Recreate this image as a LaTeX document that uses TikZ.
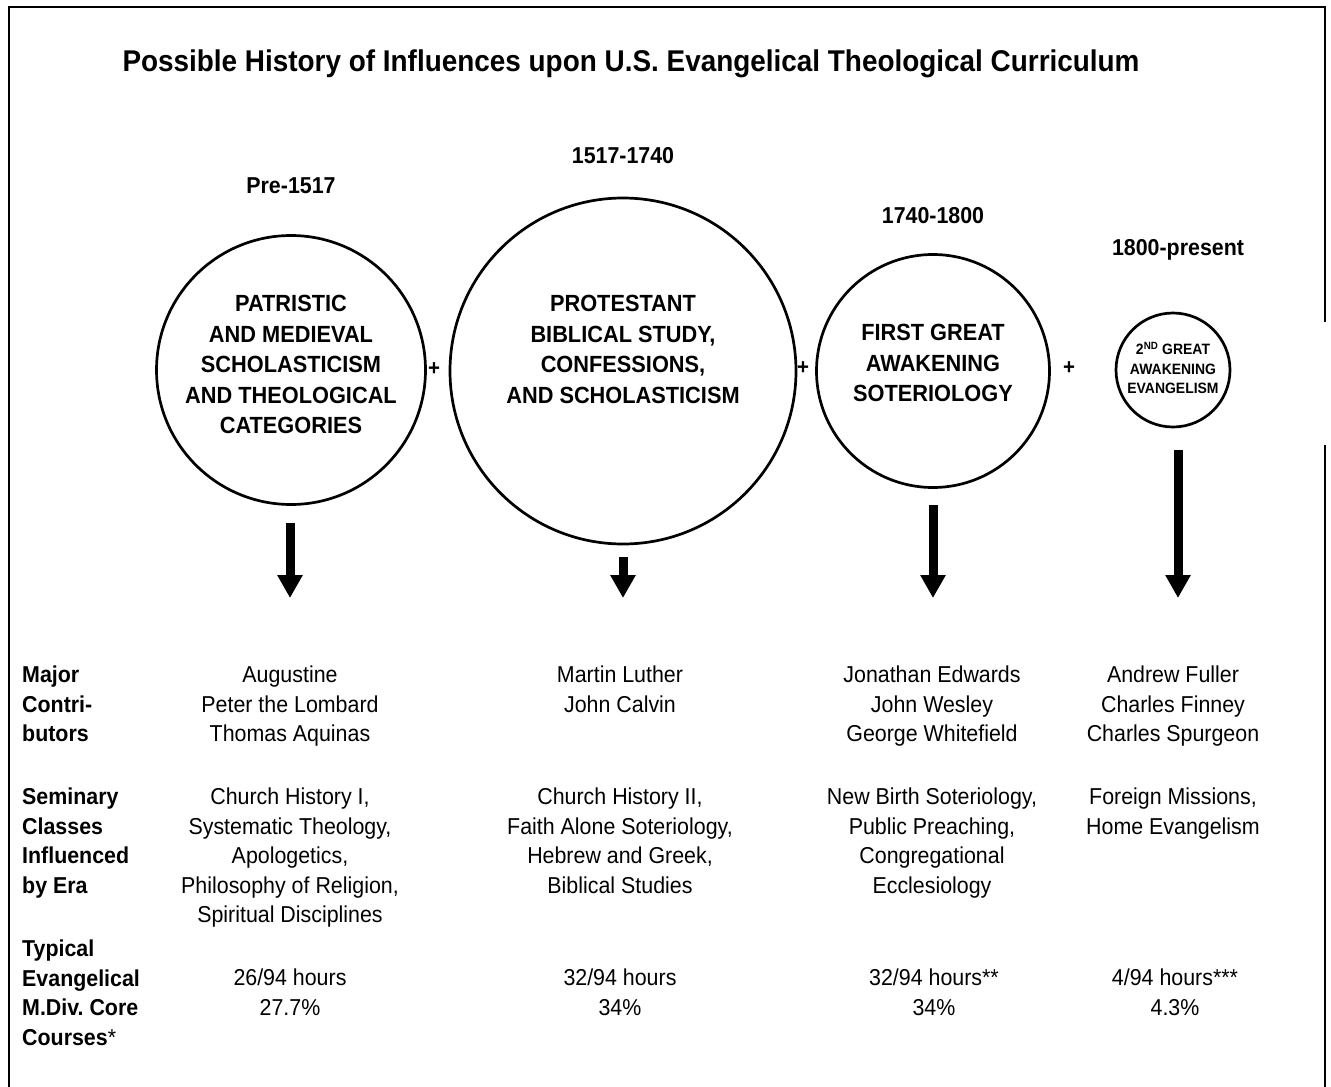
\documentclass[tikz,border=0pt]{standalone}
\usepackage{fontspec}
\setmainfont[FakeStretch=0.93]{Liberation Sans}
\usetikzlibrary{arrows.meta}

\begin{document}
\frenchspacing
\begin{tikzpicture}[x=1pt,y=-1pt,
  era/.style={circle, draw, line width=2.7pt, inner sep=0pt},
  eratext/.style={anchor=north, inner sep=0pt, align=center,
    font=\bfseries\fontsize{23.4}{30.5}\selectfont, execute at begin node=\strut},
  smalltext/.style={anchor=north, inner sep=0pt, align=center,
    font=\bfseries\fontsize{15}{19.5}\selectfont, execute at begin node=\strut},
  year/.style={anchor=base, inner sep=0pt, font=\bfseries\fontsize{23}{28}\selectfont},
  plus/.style={inner sep=0pt, font=\bfseries\fontsize{22}{26}\selectfont},
  body/.style={anchor=north, inner sep=0pt, align=center,
    font=\fontsize{23}{29.5}\selectfont, execute at begin node=\strut},
  rowhead/.style={anchor=north west, inner sep=0pt, align=left,
    font=\bfseries\fontsize{23}{29.5}\selectfont, execute at begin node=\strut},
  flow/.style={line width=9pt, -{Triangle[width=24pt,length=23pt]}},
  frame/.style={line width=2.2pt}
]
\useasboundingbox (0,0) rectangle (1331,1087);

% outer frame (open at the bottom, with a gap on the right side)
\draw[frame] (9,1087) -- (9,7) -- (1325,7) -- (1325,322);
\draw[frame] (1325,445) -- (1325,1087);

% title
\node[anchor=base, inner sep=0pt, font=\bfseries\fontsize{30}{36}\selectfont] (title) at (631,71)
  {Possible History of Influences upon U.S. Evangelical Theological Curriculum};

% era labels
\node[year] (y1) at (291,193) {Pre-1517};
\node[year] (y2) at (623,163) {1517-1740};
\node[year] (y3) at (933,223) {1740-1800};
\node[year] (y4) at (1178,255) {1800-present};

% era circles
\node[era, minimum size=269pt] (c1) at (291,370) {};
\node[era, minimum size=346pt] (c2) at (623,371) {};
\node[era, minimum size=233pt] (c3) at (933,371) {};
\node[era, minimum size=114pt] (c4) at (1173,370) {};

\node[eratext] (t1) at (291,295) {PATRISTIC\\AND MEDIEVAL\\SCHOLASTICISM\\AND THEOLOGICAL\\CATEGORIES};
\node[eratext] (t2) at (623,295) {PROTESTANT\\BIBLICAL STUDY,\\CONFESSIONS,\\AND SCHOLASTICISM};
\node[eratext] (t3) at (933,324) {FIRST GREAT\\AWAKENING\\SOTERIOLOGY};
\node[smalltext] (t4) at (1173,342) {2\textsuperscript{ND} GREAT\\AWAKENING\\EVANGELISM};

% plus signs between eras
\node[plus] (p1) at (434,369) {+};
\node[plus] (p2) at (803,368) {+};
\node[plus] (p3) at (1069,368) {+};

% downward arrows
\coordinate (a1s) at (290,523); \coordinate (a1e) at (290,598);
\coordinate (a2s) at (623,557); \coordinate (a2e) at (623,598);
\coordinate (a3s) at (933,505); \coordinate (a3e) at (933,598);
\coordinate (a4s) at (1178,450); \coordinate (a4e) at (1178,598);
\draw[flow] (a1s) -- (a1e);
\draw[flow] (a2s) -- (a2e);
\draw[flow] (a3s) -- (a3e);
\draw[flow] (a4s) -- (a4e);

% row headings
\node[rowhead] (h1) at (22,666) {Major\\Contri-\\butors};
\node[rowhead] (h2) at (22,788) {Seminary\\Classes\\Influenced\\by Era};
\node[rowhead] (h3) at (22,940) {Typical\\Evangelical\\M.Div. Core\\Courses{\mdseries*}};

% contributors
\node[body] (m1) at (290,666) {Augustine\\Peter the Lombard\\Thomas Aquinas};
\node[body] (m2) at (620,666) {Martin Luther\\John Calvin};
\node[body] (m3) at (932,666) {Jonathan Edwards\\John Wesley\\George Whitefield};
\node[body] (m4) at (1173,666) {Andrew Fuller\\Charles Finney\\Charles Spurgeon};

% seminary classes
\node[body] (s1) at (290,788) {Church History I,\\Systematic Theology,\\Apologetics,\\Philosophy of Religion,\\Spiritual Disciplines};
\node[body] (s2) at (620,788) {Church History II,\\Faith Alone Soteriology,\\Hebrew and Greek,\\Biblical Studies};
\node[body] (s3) at (932,788) {New Birth Soteriology,\\Public Preaching,\\Congregational\\Ecclesiology};
\node[body] (s4) at (1173,788) {Foreign Missions,\\Home Evangelism};

% core course hours
\node[body] (k1) at (290,969) {26/94 hours\\27.7\%};
\node[body] (k2) at (620,969) {32/94 hours\\34\%};
\node[body] (k3) at (934,969) {32/94 hours**\\34\%};
\node[body] (k4) at (1175,969) {4/94 hours***\\4.3\%};
\end{tikzpicture}
\end{document}
